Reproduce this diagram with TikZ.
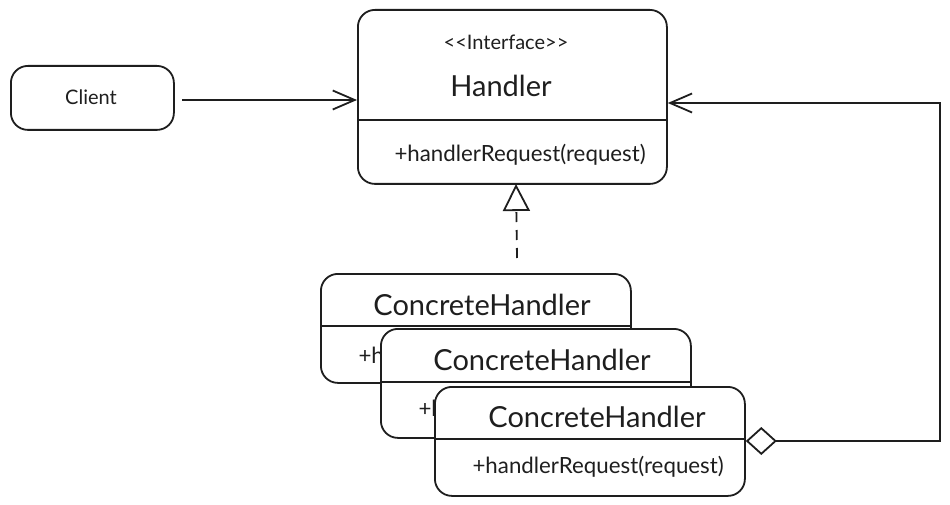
\documentclass[tikz,border=0pt]{standalone}
\usepackage{fontspec}
\setmainfont{Lato}
\usetikzlibrary{arrows.meta,calc}
\definecolor{ink}{HTML}{1E1E1E}
\begin{document}
\begin{tikzpicture}[x=1pt,y=-1pt,
  ink line/.style={draw=ink,line width=1.8pt},
  umlbox/.style={ink line,fill=white,rounded corners=17pt,inner sep=0pt,anchor=north west},
  classbox/.style={umlbox,minimum width=310pt,minimum height=109pt},
  divider/.style={draw=ink,line width=2.6pt},
  titletext/.style={font=\fontsize{29}{31}\selectfont,text=ink},
  methodtext/.style={font=\fontsize{22.3}{24}\selectfont,text=ink,anchor=west},
  smalltext/.style={font=\fontsize{20}{22}\selectfont,text=ink},
  open arrow/.style={ink line,-{Straight Barb[length=22pt,width=19pt,line width=1.8pt]}},
]
\useasboundingbox (0,0) rectangle (950,505);

% Client
\node[umlbox,minimum width=163pt,minimum height=64pt] (client) at (10,65) {};
\node[text=ink,font=\fontsize{20}{22}\selectfont] (clientlbl) at (91,97) {Client};

% Handler interface
\node[umlbox,minimum width=309pt,minimum height=174pt] (handler) at (357,9) {};
\draw[divider] (357,120) coordinate (hdl) -- (666,120) coordinate (hdr);
\node[smalltext] (iface) at (506,42) {{<}{<}Interface{>}{>}};
\node[titletext] (hname) at (501,86) {Handler};
\node[methodtext] (hmethod) at (391,155) {+handlerRequest(request)};

% Concrete handlers, stacked back to front
\node[classbox] (ch1) at (320,273) {};
\draw[divider] (320,326) -- (630,326);
\node[titletext] (ch1name) at (482,305) {ConcreteHandler};
\node[methodtext] (ch1method) at (355,357) {+handlerRequest(request)};

\node[classbox] (ch2) at (380,328) {};
\draw[divider] (380,382) -- (690,382);
\node[titletext] (ch2name) at (542,360) {ConcreteHandler};
\node[methodtext] (ch2method) at (415,410) {+handlerRequest(request)};

\node[classbox] (ch3) at (434,386) {};
\draw[divider] (434,439) -- (744,439);
\node[titletext] (ch3name) at (597,417) {ConcreteHandler};
\node[methodtext] (ch3method) at (469,467) {+handlerRequest(request)};

% Client uses Handler
\coordinate (cstart) at (182,100);
\draw[open arrow] (cstart) -- (handler.west |- cstart);

% Realization
\coordinate (realstart) at (517,258);
\draw[ink line,dash pattern=on 10pt off 8pt,
  -{Triangle[open,length=27pt,width=27pt,line width=1.8pt]}]
  (realstart) -- (516,184);

% Successor aggregation
\coordinate (loopbot) at (940,441);
\coordinate (looptop) at (940,103);
\draw[ink line,{Diamond[open,length=31pt,width=28pt,line width=1.8pt]}-{Straight Barb[length=22pt,width=19pt,line width=1.8pt]}]
  (ch3.east |- loopbot) -- (loopbot) -- (looptop) -- (handler.east |- looptop);
\end{tikzpicture}
\end{document}
